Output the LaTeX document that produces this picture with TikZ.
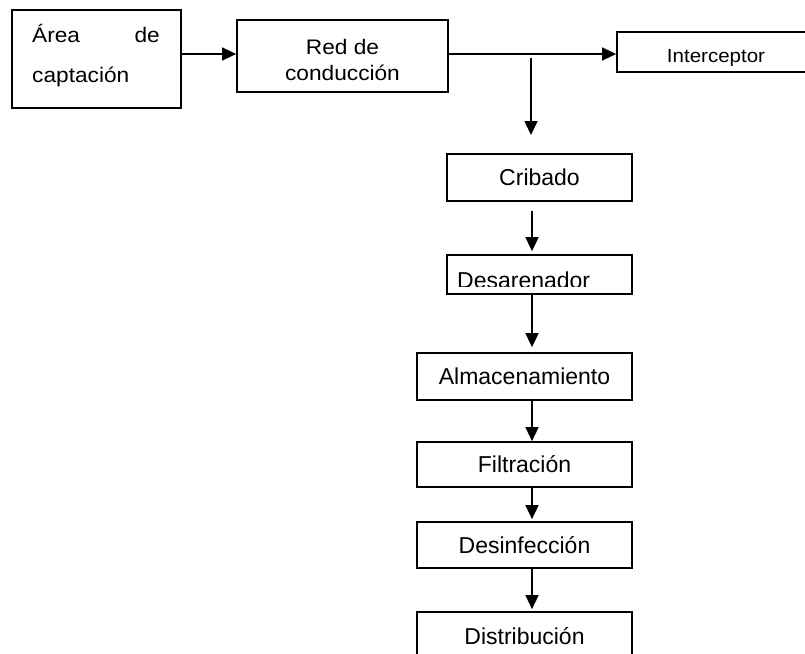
\documentclass[tikz,border=0pt]{standalone}
\usepackage{fontspec}
\setmainfont{Liberation Sans}
\newfontfamily\topfont[FakeStretch=1.08]{Liberation Sans}
\usetikzlibrary{arrows.meta}
\begin{document}
\begin{tikzpicture}[x=1pt,y=-1pt,
  box/.style={draw, line width=1.7pt, rectangle, inner sep=0pt},
  lowtext/.style={font=\fontsize{23}{27}\selectfont},
  toptext/.style={font=\topfont\fontsize{21}{24}\selectfont, inner sep=0pt},
  arr/.style={line width=1.5pt, -{Triangle[length=14pt,width=13pt]}}]
\useasboundingbox (0,0) rectangle (805,653);
\fill[white] (0,0) rectangle (805,653);
\clip (0,0) rectangle (805,653);
% boxes
\node[box, minimum width=169pt, minimum height=98pt] (a) at (96.5,59) {};
\node[box, minimum width=211pt, minimum height=72pt] (b) at (342.5,56) {};
\node[box, minimum width=198pt, minimum height=40pt] (i) at (716,52) {};
\node[box, lowtext, minimum width=185pt, minimum height=47pt] (crib) at (539.5,177.5) {Cribado};
\node[box, minimum width=185pt, minimum height=39pt] (desa) at (539.5,274.5) {};
\node[box, lowtext, minimum width=215pt, minimum height=47pt] (alm) at (524.5,376.5) {Almacenamiento};
\node[box, lowtext, minimum width=215pt, minimum height=45pt] (fil) at (524.5,464.5) {Filtración};
\node[box, lowtext, minimum width=215pt, minimum height=46pt] (desi) at (524.5,545) {Desinfección};
\node[box, lowtext, minimum width=215pt, minimum height=48pt] (dist) at (524.5,636) {Distribución};
% texts of the top row
\node[toptext, anchor=base west] (t1) at (32,42) {Área};
\node[toptext, anchor=base east] (t2) at (160,42) {de};
\node[toptext, anchor=base west] (t3) at (32,82) {captación};
\node[toptext, anchor=base] (t4) at (342.5,54) {Red de};
\node[toptext, anchor=base] (t5) at (342.5,80) {conducción};
\node[toptext, font=\topfont\fontsize{19}{21}\selectfont, anchor=base] (t6) at (716,62) {Interceptor};
% clipped text of Desarenador
\begin{scope}
\clip (447,255) rectangle (632,286);
\node[lowtext, anchor=base west, inner sep=0pt] (desat) at (457,288.5) {Desarenador};
\end{scope}
% connectors
\coordinate (row) at (0,54);
\coordinate (axis) at (532,0);
\coordinate (j) at (531,54);
\coordinate (jend) at (531,135);
\draw[arr] (a.east |- row) -- (b.west |- row);
\draw[arr] (b.east |- row) -- (i.west |- row);
\draw[arr, shorten <=4pt] (j) -- (jend);
\draw[arr, shorten <=9pt, shorten >=3pt] (crib.south -| axis) -- (desa.north -| axis);
\draw[arr, shorten >=5pt] (desa.south -| axis) -- (alm.north -| axis);
\draw[arr] (alm.south -| axis) -- (fil.north -| axis);
\draw[arr, shorten >=2pt] (fil.south -| axis) -- (desi.north -| axis);
\draw[arr, shorten >=2pt] (desi.south -| axis) -- (dist.north -| axis);
\end{tikzpicture}
\end{document}
